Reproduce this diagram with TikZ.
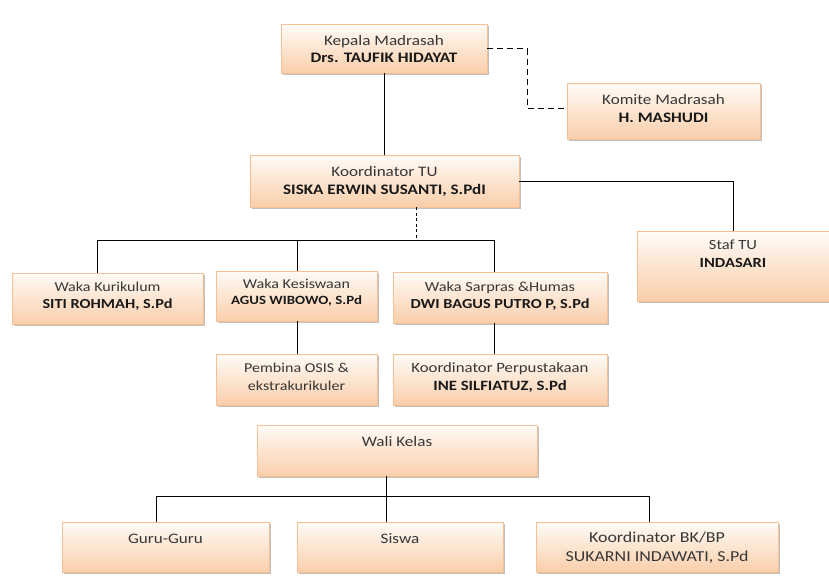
\documentclass[tikz,border=0pt]{standalone}
\usepackage{fontspec}
\setmainfont{Carlito}[FakeStretch=1.18]
\usetikzlibrary{shadows}
\definecolor{boxtop}{RGB}{255,251,247}
\definecolor{boxbot}{RGB}{250,206,170}
\definecolor{boxline}{RGB}{246,192,150}
\definecolor{txtreg}{RGB}{55,55,55}
\definecolor{txtbold}{RGB}{25,25,25}
\tikzset{
  orgbox/.style={draw=boxline, line width=0.9pt, top color=boxtop, bottom color=boxbot,
    inner sep=0pt, outer sep=0pt, anchor=north west,
    drop shadow={shadow xshift=2pt, shadow yshift=-2pt, fill=black!50, opacity=0.5}},
  conn/.style={draw=black, line width=1pt},
  bigdash/.style={conn, dash pattern=on 6pt off 4pt},
  smalldash/.style={conn, dash pattern=on 3pt off 2.5pt},
  lreg/.style={anchor=base, inner sep=0pt, text=txtreg, font=\fontsize{#1}{18}\selectfont},
  lreg/.default=14.5,
  lbold/.style={anchor=base, inner sep=0pt, text=txtbold, font=\fontsize{#1}{18}\selectfont\bfseries},
  lbold/.default=14.5,
}
\newcommand\mkbox[5]{\node[orgbox, minimum width={(#4-#2)*1pt}, minimum height={(#5-#3)*1pt}] (#1) at (#2,#3) {};}
\begin{document}
\begin{tikzpicture}[x=1pt,y=-1pt]
\useasboundingbox (0,0) rectangle (829,581);
\fill[white] (0,0) rectangle (829,581);

% boxes
\mkbox{kepala}{281}{24}{487}{73}
\mkbox{komite}{567}{83}{760}{139}
\mkbox{ktu}{250}{155}{519}{207}
\mkbox{staf}{637}{231}{829}{301}
\mkbox{kurikulum}{12}{273}{203}{324}
\mkbox{kesiswaan}{216}{271}{377}{321}
\mkbox{sarpras}{393}{272}{607}{323}
\mkbox{pembina}{216}{354}{377}{405}
\mkbox{perpus}{393}{354}{607}{405}
\mkbox{wali}{257}{425}{537}{476}
\mkbox{guru}{62}{522}{269}{572}
\mkbox{siswa}{297}{522}{503}{572}
\mkbox{bk}{536}{522}{778}{572}

% texts
\node[lreg] (kepala1) at ([yshift=-21pt]kepala.north) {Kepala Madrasah};
\node[lbold] (kepala2) at ([yshift=-38pt]kepala.north) {Drs. TAUFIK HIDAYAT};
\node[lreg] (komite1) at ([yshift=-21pt]komite.north) {Komite Madrasah};
\node[lbold] (komite2) at ([yshift=-39pt]komite.north) {H. MASHUDI};
\node[lreg] (ktu1) at ([yshift=-21pt]ktu.north) {Koordinator TU};
\node[lbold] (ktu2) at ([yshift=-39pt]ktu.north) {SISKA ERWIN SUSANTI, S.PdI};
\node[lreg=14] (staf1) at ([yshift=-18pt]staf.north) {Staf TU};
\node[lbold=14] (staf2) at ([yshift=-36pt]staf.north) {INDASARI};
\node[lreg=13.6] (kur1) at ([yshift=-18pt]kurikulum.north) {Waka Kurikulum};
\node[lbold=13.8] (kur2) at ([yshift=-35pt]kurikulum.north) {SITI ROHMAH, S.Pd};
\node[lreg=13.6] (kes1) at ([yshift=-17pt]kesiswaan.north) {Waka Kesiswaan};
\node[lbold=12.6] (kes2) at ([yshift=-33pt]kesiswaan.north) {AGUS WIBOWO, S.Pd};
\node[lreg=13.8] (sar1) at ([yshift=-19pt]sarpras.north) {Waka Sarpras \&Humas};
\node[lbold=13.8] (sar2) at ([yshift=-36pt]sarpras.north) {DWI BAGUS PUTRO P, S.Pd};
\node[lreg=13.6] (pem1) at ([yshift=-18pt]pembina.north) {Pembina OSIS \&};
\node[lreg=13.6] (pem2) at ([yshift=-36pt]pembina.north) {ekstrakurikuler};
\node[lreg=14.2] (per1) at ([yshift=-18pt]perpus.north) {Koordinator Perpustakaan};
\node[lbold=14.2] (per2) at ([yshift=-36pt]perpus.north) {INE SILFIATUZ, S.Pd};
\node[lreg] (wali1) at ([yshift=-21pt]wali.north) {Wali Kelas};
\node[lreg] (guru1) at ([yshift=-21pt]guru.north) {Guru-Guru};
\node[lreg] (siswa1) at ([yshift=-21pt]siswa.north) {Siswa};
\node[lreg=15.2] (bk1) at ([yshift=-20pt]bk.north) {Koordinator BK/BP};
\node[lreg=15.2] (bk2) at ([yshift=-39pt]bk.north) {SUKARNI INDAWATI, S.Pd};

% connectors
\draw[conn] (kepala.south) -- (ktu.north -| kepala.south);
\coordinate (kd) at (527,108);
\draw[bigdash] (kepala.east) -| (kd) -- (kd -| komite.west);
\draw[conn] (ktu.east) -| (staf.north);
\coordinate (b1) at (97,240);
\coordinate (b2) at (297,240);
\coordinate (b3) at (494,240);
\coordinate (bd) at (416,240);
\draw[smalldash] (ktu.south -| bd) -- (bd);
\draw[conn] (kurikulum.north -| b1) -- (b1) -- (b3) -- (sarpras.north -| b3);
\draw[conn] (b2) -- (kesiswaan.north -| b2);
\draw[conn] (kesiswaan.south -| b2) -- (pembina.north -| b2);
\draw[conn] (sarpras.south -| b3) -- (perpus.north -| b3);
\coordinate (w1) at (156,496);
\coordinate (w2) at (386,496);
\coordinate (w3) at (649,496);
\draw[conn] (guru.north -| w1) -- (w1) -- (w3) -- (bk.north -| w3);
\draw[conn] (wali.south -| w2) -- (siswa.north -| w2);
\end{tikzpicture}
\end{document}
